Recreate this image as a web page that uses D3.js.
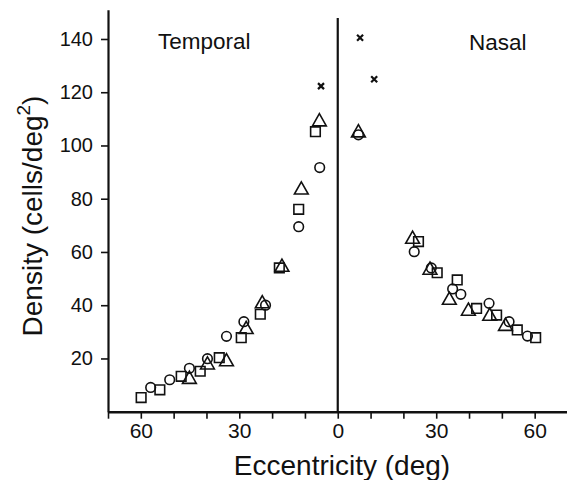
<!DOCTYPE html>
<html>
<head>
<meta charset="utf-8">
<script src="https://cdn.jsdelivr.net/npm/d3@7"></script>
<style>
body { margin: 0; background: #fff; }
text { font-family: "Liberation Sans", Arial, Helvetica, sans-serif; fill: #111; }
</style>
</head>
<body>
<script>
// [eccentricity (deg), density (cells/deg^2)] -- temporal side is drawn to the left
var temporalSquares = [[6.8,105.2],[11.9,76],[17.8,54],[23.6,36.6],[29.4,27.8],[36.1,20.3],[41.9,15.2],[47.7,13.3],[54.2,8.2],[59.9,5.3]];
var temporalCircles = [[5.5,91.7],[11.9,69.5],[22,40],[28.6,33.8],[33.9,28.3],[39.7,19.9],[45.2,16.3],[51.2,12],[57,9.1]];
var temporalTriangles = [[5.6,109.6],[11.1,84],[17,55],[23,41.3],[27.9,31.6],[33.9,19.5],[39.7,18.3],[45.2,12.9]];
var temporalCrosses = [[5.1,122.3]];

var nasalSquares = [[24.6,63.9],[30.3,52.2],[36.4,49.5],[42.3,38.8],[48.4,36.3],[54.7,30.7],[60.3,27.8]];
var nasalCircles = [[6.3,104],[23.3,60.1],[28.5,54],[35,46.1],[37.5,44.1],[46.1,40.7],[52.2,33.8],[57.8,28.4]];
var nasalTriangles = [[6.3,105.5],[22.8,65.5],[28.1,53.9],[34,42.6],[39.8,38.5],[46.3,36.6],[51.1,32.8]];
var nasalCrosses = [[6.8,140.5],[11.1,124.9]];

var xTicks = d3.range(-70, 71, 10);
var xLabels = [-60, -30, 0, 30, 60];
var yTicks = [20, 40, 60, 80, 100, 120, 140];

var width = 567;
var height = 480;

var svg = d3.select("body").append("svg")
  .attr("width", width)
  .attr("height", height);

var x = d3.scaleLinear().domain([-70, 70]).range([108, 567.5]);
var y = d3.scaleLinear().domain([0, 151]).range([411.7, 9.7]);

// axes
var xAxis = svg.append("g")
  .attr("transform", "translate(0," + y(0) + ")")
  .call(d3.axisBottom(x)
    .tickValues(xTicks)
    .tickSize(7)
    .tickPadding(4)
    .tickSizeOuter(0)
    .tickFormat(function(d) { return xLabels.indexOf(d) >= 0 ? Math.abs(d) : ""; }));
xAxis.select(".domain").attr("stroke-width", 2.5).attr("stroke", "#111");
xAxis.selectAll(".tick line").attr("stroke-width", 1.6).attr("stroke", "#111");
xAxis.selectAll("text").style("font-size", "21px").attr("font-family", null);

var yAxis = svg.append("g")
  .attr("transform", "translate(" + x(-70) + ",0)")
  .call(d3.axisLeft(y)
    .tickValues(yTicks)
    .tickSize(7)
    .tickPadding(8)
    .tickSizeOuter(0));
yAxis.select(".domain").attr("stroke-width", 2.2).attr("stroke", "#111");
yAxis.selectAll(".tick line").attr("stroke-width", 1.6).attr("stroke", "#111");
yAxis.selectAll("text").style("font-size", "20px").attr("font-family", null);

// divider at zero eccentricity
svg.append("line")
  .attr("x1", x(0)).attr("x2", x(0))
  .attr("y1", 18).attr("y2", y(0))
  .attr("stroke", "#111")
  .attr("stroke-width", 2.2);

// titles
svg.append("text")
  .attr("x", 342)
  .attr("y", 475)
  .attr("text-anchor", "middle")
  .style("font-size", "28px")
  .text("Eccentricity (deg)");

var yt = svg.append("text")
  .attr("transform", "translate(42,216) rotate(-90)")
  .attr("text-anchor", "middle")
  .style("font-size", "28px");
yt.append("tspan").text("Density (cells/deg");
yt.append("tspan").attr("dy", -12).style("font-size", "19px").text("2");
yt.append("tspan").attr("dy", 12).text(")");

svg.append("text").attr("x", 158).attr("y", 49).style("font-size", "22.5px").text("Temporal");
svg.append("text").attr("x", 469).attr("y", 50).style("font-size", "22.5px").text("Nasal");

// markers
var shapes = {
  square: "M-4.8,-4.8H4.8V4.8H-4.8Z",
  circle: "M4.8,0A4.8,4.8 0 1,1 -4.8,0A4.8,4.8 0 1,1 4.8,0Z",
  triangle: "M0,-6.2L6.9,6L-6.9,6Z",
  cross: "M-3,-3L3,3M-3,3L3,-3"
};

var series = [
  {data: temporalSquares, sign: -1, shape: "square"},
  {data: nasalSquares, sign: 1, shape: "square"},
  {data: temporalCircles, sign: -1, shape: "circle"},
  {data: nasalCircles, sign: 1, shape: "circle"},
  {data: temporalTriangles, sign: -1, shape: "triangle"},
  {data: nasalTriangles, sign: 1, shape: "triangle"},
  {data: temporalCrosses, sign: -1, shape: "cross"},
  {data: nasalCrosses, sign: 1, shape: "cross"}
];

series.forEach(function(s) {
  svg.append("g").selectAll("path")
    .data(s.data)
    .enter().append("path")
    .attr("d", shapes[s.shape])
    .attr("transform", function(d) {
      return "translate(" + x(s.sign * d[0]) + "," + y(d[1]) + ")";
    })
    .attr("fill", "none")
    .attr("stroke", "#111")
    .attr("stroke-width", s.shape == "cross" ? 2.2 : 1.6);
});
</script>
</body>
</html>
